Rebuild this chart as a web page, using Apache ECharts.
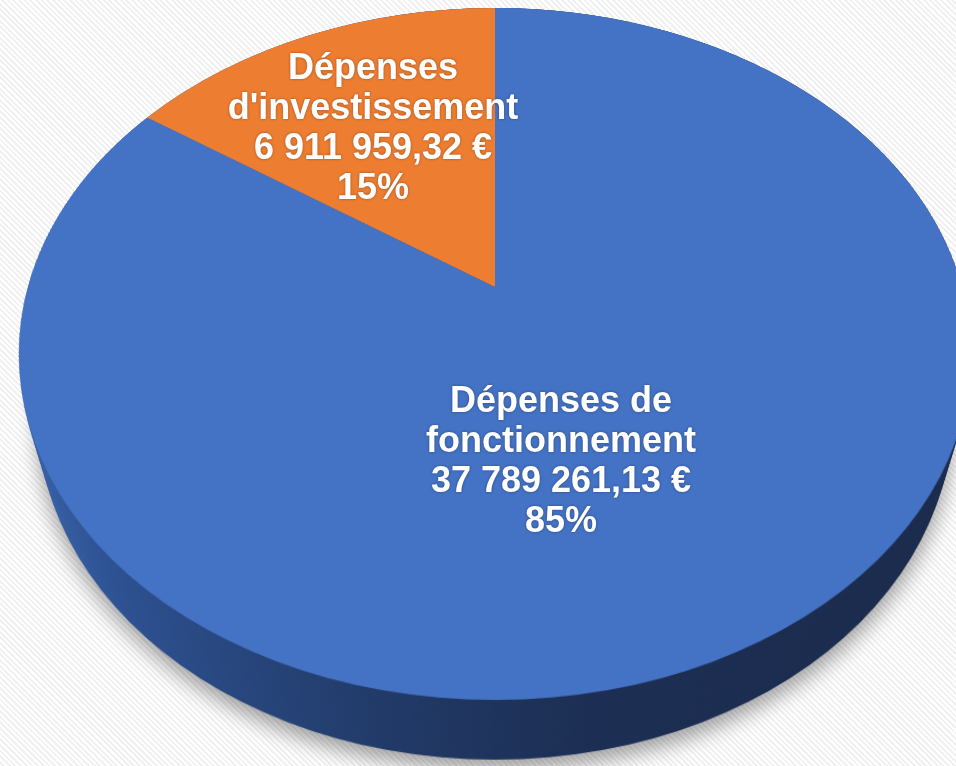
<!DOCTYPE html>
<html>
<head>
<meta charset="utf-8">
<script src="https://cdn.jsdelivr.net/npm/echarts@6/dist/echarts.min.js"></script>
<style>
  html, body { margin: 0; padding: 0; }
  #wrap {
    position: relative; width: 956px; height: 766px; overflow: hidden;
    background: repeating-linear-gradient(45deg, #ffffff 0px, #ffffff 2px, #f1f1f1 2px, #f1f1f1 4px);
  }
  .layer { position: absolute; transform-origin: 50% 50%; }
  #lab { position: absolute; left: 0; top: 0; width: 956px; height: 766px; }
</style>
</head>
<body>
<div id="wrap">
  <div id="side" class="layer"></div>
  <div id="layers"></div>
  <div id="top" class="layer"></div>
  <div id="lab"></div>
</div>
<script>
// ---- data ----
const categories = ['Dépenses de fonctionnement', "Dépenses d'investissement"];
const values = [37789261.13, 6911959.32];

// ---- 3D view setup (styling, not data) ----
const PERSP = 1692;     // camera distance, px
const TILT = 44.5;      // disc tilt, degrees
const THICK = 96;       // disc thickness, px
const NLAYERS = 24;     // side layers
const SIZE = 960;       // square drawing surface per layer
const RADIUS = 467;     // pie radius on the surface
const VX = 495, VY = 287; // where the pie centre appears on the page
const topColors = ['#4472c4', '#ed7d31'];

function place(el, t) {
  el.style.left = (VX - SIZE / 2) + 'px';
  el.style.top = (VY - SIZE / 2) + 'px';
  el.style.width = SIZE + 'px';
  el.style.height = SIZE + 'px';
  el.style.transform = 'perspective(' + PERSP + 'px) rotateX(' + TILT + 'deg) translateZ(' + (-t) + 'px)';
}

const pieData = categories.map((c, i) => ({ name: c, value: values[i] }));

const baseSeries = {
  type: 'pie',
  silent: true,
  center: ['50%', '50%'],
  radius: [0, RADIUS],
  startAngle: 90,
  clockwise: true,
  label: { show: false },
  labelLine: { show: false }
};

// side (drawn once, reused for every thickness layer)
const sideEl = document.getElementById('side');
place(sideEl, THICK);
sideEl.style.filter = 'drop-shadow(0px 10px 9px rgba(0,0,0,0.35))';
const sideGrad = new echarts.graphic.LinearGradient(0, 0, 1, 0, [
  { offset: 0, color: '#3b66b0' },
  { offset: 0.14, color: '#2d5192' },
  { offset: 0.4, color: '#213a68' },
  { offset: 0.58, color: '#1c2e53' },
  { offset: 1, color: '#1a2a4b' }
]);
const sideChart = echarts.init(sideEl, null, { renderer: 'canvas' });
sideChart.setOption({
  animation: false,
  series: [Object.assign({}, baseSeries, {
    itemStyle: { color: sideGrad, borderWidth: 0 },
    data: pieData
  })]
});
const sideUrl = sideChart.getDataURL({ type: 'png', pixelRatio: 1, backgroundColor: 'rgba(0,0,0,0)' });
const layersEl = document.getElementById('layers');
for (let k = NLAYERS - 1; k >= 0; k--) {
  const img = document.createElement('img');
  img.className = 'layer';
  img.src = sideUrl;
  place(img, THICK * k / NLAYERS);
  layersEl.appendChild(img);
}

// top face
const topEl = document.getElementById('top');
place(topEl, 0);
const topChart = echarts.init(topEl, null, { renderer: 'canvas' });
topChart.setOption({
  animation: false,
  series: [Object.assign({}, baseSeries, {
    itemStyle: { borderWidth: 0 },
    data: pieData.map((d, i) => ({ name: d.name, value: d.value, itemStyle: { color: topColors[i] } }))
  })]
});

// ---- labels (flat overlay) ----
function fmtMoney(v) {
  const parts = v.toFixed(2).split('.');
  return parts[0].replace(/\B(?=(\d{3})+(?!\d))/g, ' ') + ',' + parts[1] + ' €';
}
function fmtName(n) { return n.replace(/ (\S+)$/, '\n$1'); }
const labelPos = [[561, 462], [373, 129]];

const labChart = echarts.init(document.getElementById('lab'));
labChart.setOption({
  animation: false,
  series: [{
    type: 'pie',
    silent: true,
    center: [VX, VY],
    radius: [0, 300],
    startAngle: 90,
    clockwise: true,
    percentPrecision: 0,
    itemStyle: { color: 'rgba(0,0,0,0)', borderWidth: 0 },
    labelLine: { show: false },
    label: {
      show: true,
      position: 'inside',
      color: '#ffffff',
      fontFamily: 'Liberation Sans, Arial, sans-serif',
      fontWeight: 'bold',
      fontSize: 36,
      lineHeight: 40,
      align: 'center',
      textShadowColor: 'rgba(0,0,0,0.35)',
      textShadowBlur: 3,
      formatter: p => fmtName(p.name) + '\n' + fmtMoney(p.value) + '\n' + p.percent + '%'
    },
    labelLayout: p => ({ x: labelPos[p.dataIndex][0], y: labelPos[p.dataIndex][1], align: 'center', verticalAlign: 'middle' }),
    data: pieData
  }]
});
</script>
</body>
</html>
